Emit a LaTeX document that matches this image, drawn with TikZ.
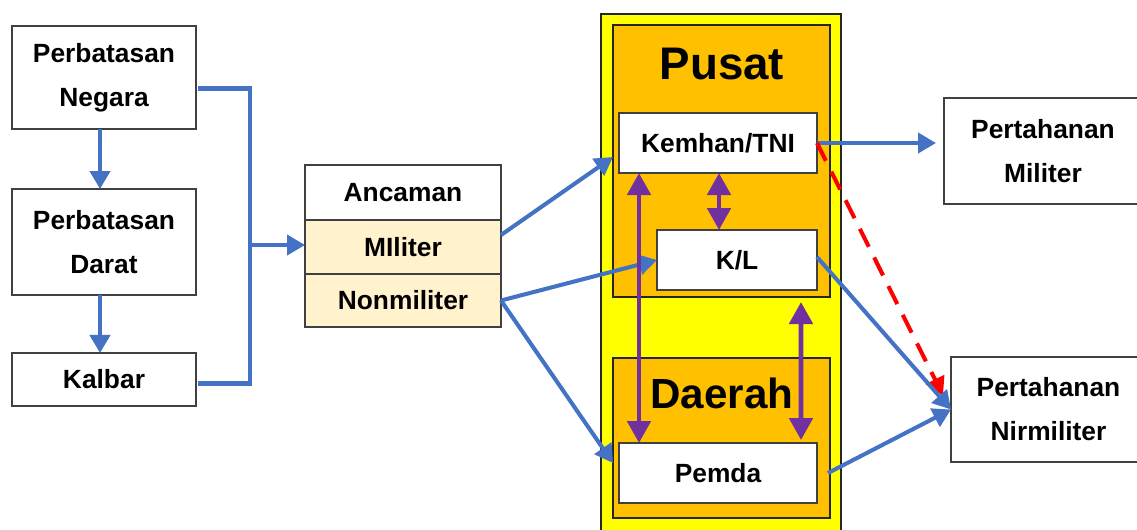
\documentclass[tikz,border=0pt]{standalone}
\usepackage{fontspec}
\setmainfont{Liberation Sans}
\usetikzlibrary{positioning, calc, arrows.meta}
\definecolor{Blue}{HTML}{4472C4}
\definecolor{Purple}{HTML}{7030A0}
\definecolor{Cream}{HTML}{FFF2CC}
\definecolor{Gold}{HTML}{FFC000}
\definecolor{Lemon}{HTML}{FFFF00}
\definecolor{Red}{HTML}{FF0000}
\tikzset{
	sz/.style 2 args={
		minimum width=#1*0.02cm,
		minimum height=#2*0.02cm
	},
	box/.style={
		draw=black!75,
		line width=0.7pt,
		fill=white,
		align=center,
		inner sep=0pt,
		outer sep=0pt,
		font=\fontsize{15}{25}\selectfont\bfseries
	},
	row/.style={
		box,
		fill=Cream
	},
	region/.style={
		draw=black!85,
		line width=0.7pt,
		inner sep=0pt,
		outer sep=0pt
	},
	big/.style={
		inner sep=0pt,
		font=\fontsize{26}{30}\selectfont\bfseries
	},
	bline/.style={
		Blue,
		line width=2.3pt
	},
	barrow/.style={
		bline,
		-{Triangle[length=0.36cm, width=0.4cm]}
	},
	parrow/.style={
		Purple,
		line width=2.8pt,
		{Triangle[length=0.44cm, width=0.46cm]}-{Triangle[length=0.44cm, width=0.46cm]}
	},
	rarrow/.style={
		Red,
		line width=2.3pt,
		dash pattern=on 0.4cm off 0.24cm,
		-{Triangle[length=0.36cm, width=0.4cm]}
	}
}
\begin{document}
\begin{tikzpicture}[x=0.02cm, y=-0.02cm]
		\useasboundingbox (0,0) rectangle (1137,529);
		
		% regions
		\node(outer)[region, fill=Lemon, sz={240}{518}] at (721,273) {};
		\node(pusat)[region, fill=Gold, sz={217}{272}] at (721.5,161) {};
		\node(daerah)[region, fill=Gold, sz={217}{160}] at (721.5,438) {};
		\node(pusatlbl)[big] at (722,64) {Pusat};
		\node(daerahlbl)[big, font=\fontsize{24}{30}\selectfont\bfseries] at (722,393) {Daerah};
		
		% left column
		\node(neg)[box, sz={184}{103}] at (104,77.5) {Perbatasan\\Negara};
		\node(dar)[box, sz={184}{106}, below=1.2cm of neg] {Perbatasan\\Darat};
		\node(kal)[box, sz={184}{53}, below=1.16cm of dar] {Kalbar};
		
		% threat table
		\node(anc)[box, sz={196}{55}] at (403,192.5) {Ancaman};
		\node(mil)[row, sz={196}{54}, below=0 of anc] {MIliter};
		\node(non)[row, sz={196}{53}, below=0 of mil] {Nonmiliter};
		
		% actors
		\node(kem)[box, sz={198}{60}] at (718,143) {Kemhan/TNI};
		\node(kl)[box, sz={160}{60}] at (737,260) {K/L};
		\node(pem)[box, sz={198}{60}] at (718,473) {Pemda};
		
		% outcomes
		\node(pm)[box, sz={198}{106}] at (1043,151) {Pertahanan\\Militer};
		\node(nir)[box, sz={195}{105}] at (1048.5,409.5) {Pertahanan\\Nirmiliter};
		
		\coordinate(jn) at (250,245);
		
		\draw[barrow] ($(neg.south)+(-4,0)$) -- ($(dar.north)+(-4,0)$);
		\draw[barrow] ($(dar.south)+(-4,0)$) -- ($(kal.north)+(-4,0)$);
		\draw[bline] ($(neg.east)+(2,11)$) -| (jn) |- ($(kal.east)+(2,4)$);
		\draw[barrow] (jn) -- (jn -| mil.west);
		
		\draw[barrow] ($(mil.east)+(0,-12)$) -- ($(kem.west)+(-6,14)$);
		\draw[barrow] (non.east) -- (kl.west);
		\draw[barrow] (non.east) -- ($(pem.west)+(-6,-10)$);
		
		\draw[parrow] ($(kem.south west)+(20,0)$) -- ($(pem.north west)+(20,0)$);
		\draw[parrow] (kem.south -| 719,0) -- (kl.north -| 719,0);
		\draw[parrow] ($(pusat.south east)+(-29,5)$) -- ($(pem.north east)+(-16,-3)$);
		
		\draw[barrow] (kem.east) -- ($(kem.east -| pm.west)+(-8,0)$);
		\draw[rarrow] (kem.east) -- ($(nir.west)+(-8,-14)$);
		\draw[barrow] ($(kl.east)+(0,-3)$) -- (nir.west);
		\draw[barrow] ($(pem.east)+(11,0)$) -- (nir.west);
		
\end{tikzpicture}
\end{document}
